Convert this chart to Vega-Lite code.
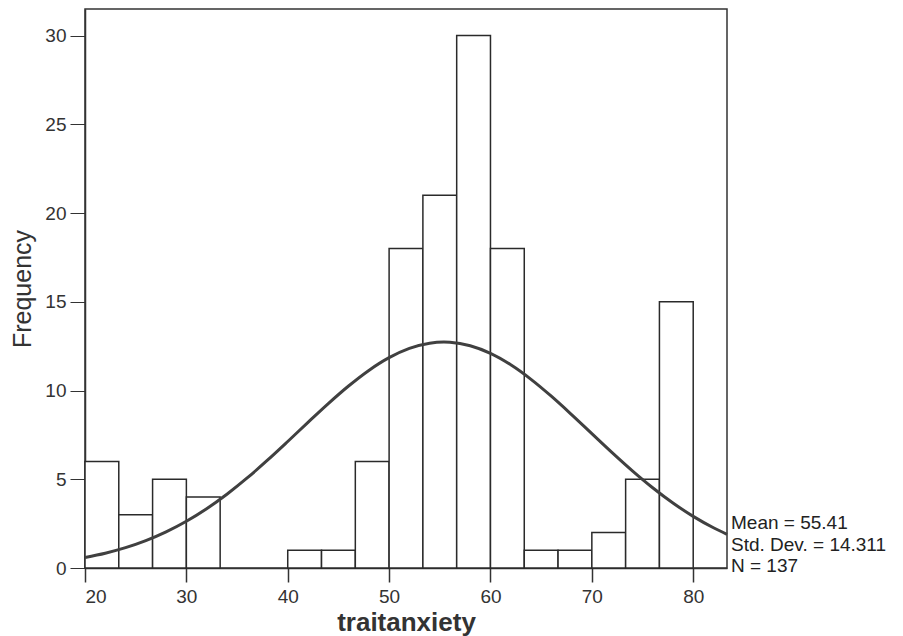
{
  "$schema": "https://vega.github.io/schema/vega-lite/v6.json",
  "width": 642,
  "height": 559,
  "autosize": {"type": "none"},
  "padding": {"left": 85, "top": 9, "right": 176, "bottom": 68},
  "background": "white",
  "config": {
    "font": "Liberation Sans",
    "view": {"stroke": "#333333", "strokeWidth": 1.5},
    "axis": {"grid": false, "domainColor": "#333333", "tickColor": "#333333", "labelColor": "#333333", "titleColor": "#333333", "labelFont": "Liberation Sans", "titleFont": "Liberation Sans", "labelFontSize": 19, "domainWidth": 1.5},
    "axisX": {"tickSize": 14, "labelPadding": 5, "titlePadding": 3, "titleFontSize": 26, "titleFontWeight": "bold", "tickWidth": 1.5},
    "axisY": {"tickSize": 15, "labelPadding": 4, "titlePadding": 9, "titleFontSize": 25, "titleFontWeight": "normal", "tickWidth": 1}
  },
  "datasets": {
    "bins": [
      {"start": 20, "end": 23.333, "count": 6},
      {"start": 23.333, "end": 26.667, "count": 3},
      {"start": 26.667, "end": 30, "count": 5},
      {"start": 30, "end": 33.333, "count": 4},
      {"start": 40, "end": 43.333, "count": 1},
      {"start": 43.333, "end": 46.667, "count": 1},
      {"start": 46.667, "end": 50, "count": 6},
      {"start": 50, "end": 53.333, "count": 18},
      {"start": 53.333, "end": 56.667, "count": 21},
      {"start": 56.667, "end": 60, "count": 30},
      {"start": 60, "end": 63.333, "count": 18},
      {"start": 63.333, "end": 66.667, "count": 1},
      {"start": 66.667, "end": 70, "count": 1},
      {"start": 70, "end": 73.333, "count": 2},
      {"start": 73.333, "end": 76.667, "count": 5},
      {"start": 76.667, "end": 80, "count": 15}
    ],
    "curve": [
      {"x": 20, "y": 0.596}, {"x": 22, "y": 0.834}, {"x": 24, "y": 1.145}, {"x": 26, "y": 1.541},
      {"x": 28, "y": 2.034}, {"x": 30, "y": 2.632}, {"x": 32, "y": 3.340}, {"x": 34, "y": 4.157},
      {"x": 36, "y": 5.074}, {"x": 38, "y": 6.074}, {"x": 40, "y": 7.129}, {"x": 42, "y": 8.207},
      {"x": 44, "y": 9.264}, {"x": 46, "y": 10.255}, {"x": 48, "y": 11.134}, {"x": 50, "y": 11.852},
      {"x": 52, "y": 12.374}, {"x": 54, "y": 12.668}, {"x": 55.41, "y": 12.73}, {"x": 56, "y": 12.719},
      {"x": 58, "y": 12.523}, {"x": 60, "y": 12.092}, {"x": 62, "y": 11.449}, {"x": 64, "y": 10.631},
      {"x": 66, "y": 9.681}, {"x": 68, "y": 8.645}, {"x": 70, "y": 7.571}, {"x": 72, "y": 6.501},
      {"x": 74, "y": 5.475}, {"x": 76, "y": 4.522}, {"x": 78, "y": 3.663}, {"x": 80, "y": 2.909},
      {"x": 82, "y": 2.266}, {"x": 83.333, "y": 1.898}
    ],
    "stats": [
      {"label": "Mean = 55.41", "x": 83.333, "y": 2.55},
      {"label": "Std. Dev. = 14.311", "x": 83.333, "y": 1.3},
      {"label": "N = 137", "x": 83.333, "y": 0.12}
    ]
  },
  "layer": [
    {
      "data": {"name": "bins"},
      "mark": {"type": "rect", "fill": "white", "stroke": "#2a2a2a", "strokeWidth": 1.5},
      "encoding": {
        "x": {"field": "start", "type": "quantitative", "scale": {"domain": [20, 83.333], "nice": false, "zero": false},
              "axis": {"values": [20, 30, 40, 50, 60, 70, 80], "title": "traitanxiety"}},
        "x2": {"field": "end"},
        "y": {"field": "count", "type": "quantitative", "scale": {"domain": [0, 31.5], "nice": false},
              "axis": {"values": [0, 5, 10, 15, 20, 25, 30], "title": "Frequency"}},
        "y2": {"datum": 0}
      }
    },
    {
      "data": {"name": "curve"},
      "mark": {"type": "line", "color": "#404040", "strokeWidth": 3, "interpolate": "monotone"},
      "encoding": {
        "x": {"field": "x", "type": "quantitative"},
        "y": {"field": "y", "type": "quantitative"}
      }
    },
    {
      "data": {"name": "stats"},
      "mark": {"type": "text", "align": "left", "baseline": "middle", "dx": 4, "fontSize": 19, "color": "#222222", "font": "Liberation Sans"},
      "encoding": {
        "x": {"field": "x", "type": "quantitative"},
        "y": {"field": "y", "type": "quantitative"},
        "text": {"field": "label"}
      }
    }
  ]
}
